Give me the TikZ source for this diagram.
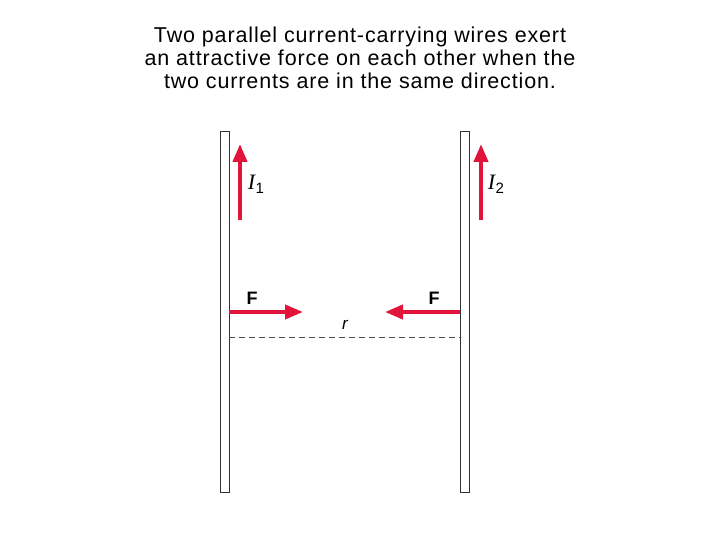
\documentclass[tikz,border=0pt]{standalone}
\usepackage{fontspec}
\setmainfont{Liberation Sans}
\usetikzlibrary{arrows.meta}
\definecolor{fred}{RGB}{225,20,60}
\begin{document}
\begin{tikzpicture}[x=1pt,y=-1pt,
  wire/.style={draw=black!80,fill=white,line width=0.9pt},
  redarrow/.style={draw=fred,line width=4pt,-{Triangle[length=18pt,width=14pt]}},
  lbl/.style={inner sep=0pt,font=\fontsize{17}{17}\selectfont}]
\useasboundingbox (0,0) rectangle (720,540);
\node[align=center,inner sep=0pt,font=\fontsize{21.5}{23}\selectfont\addfontfeatures{LetterSpace=4}] (title) at (360,58) {Two parallel current-carrying wires exert\\an attractive force on each other when the\\two currents are in the same direction.};
\draw[wire] (220,131) rectangle (229,492);
\draw[wire] (460,131) rectangle (469,492);
\coordinate (i1s) at (240,220); \coordinate (i1e) at (240,144);
\coordinate (i2s) at (481,220); \coordinate (i2e) at (481,144);
\draw[redarrow] (i1s) -- (i1e);
\draw[redarrow] (i2s) -- (i2e);
\coordinate (f1s) at (229,312); \coordinate (f1e) at (303,312);
\coordinate (f2s) at (460,312); \coordinate (f2e) at (385,312);
\draw[redarrow] (f1s) -- (f1e);
\draw[redarrow] (f2s) -- (f2e);
\coordinate (d1) at (229,337); \coordinate (d2) at (460,337);
\draw[black!70,dash pattern=on 6pt off 4pt] (d1) -- (d2);
\node[lbl] (I1) at (256,184) {\fontspec{Liberation Serif}\itshape\fontsize{22}{22}\selectfont I\kern0.5pt\raisebox{-4pt}{\fontspec{Liberation Sans}\upshape\fontsize{15}{15}\selectfont 1}};
\node[lbl] (I2) at (496,184) {\fontspec{Liberation Serif}\itshape\fontsize{22}{22}\selectfont I\kern0.5pt\raisebox{-4pt}{\fontspec{Liberation Sans}\upshape\fontsize{15}{15}\selectfont 2}};
\node[lbl,font=\bfseries\fontsize{18}{18}\selectfont] (F1) at (252,298) {F};
\node[lbl,font=\bfseries\fontsize{18}{18}\selectfont] (F2) at (434,298) {F};
\node[lbl,font=\itshape\fontsize{17}{17}\selectfont] (r) at (345,325) {r};
\end{tikzpicture}
\end{document}
